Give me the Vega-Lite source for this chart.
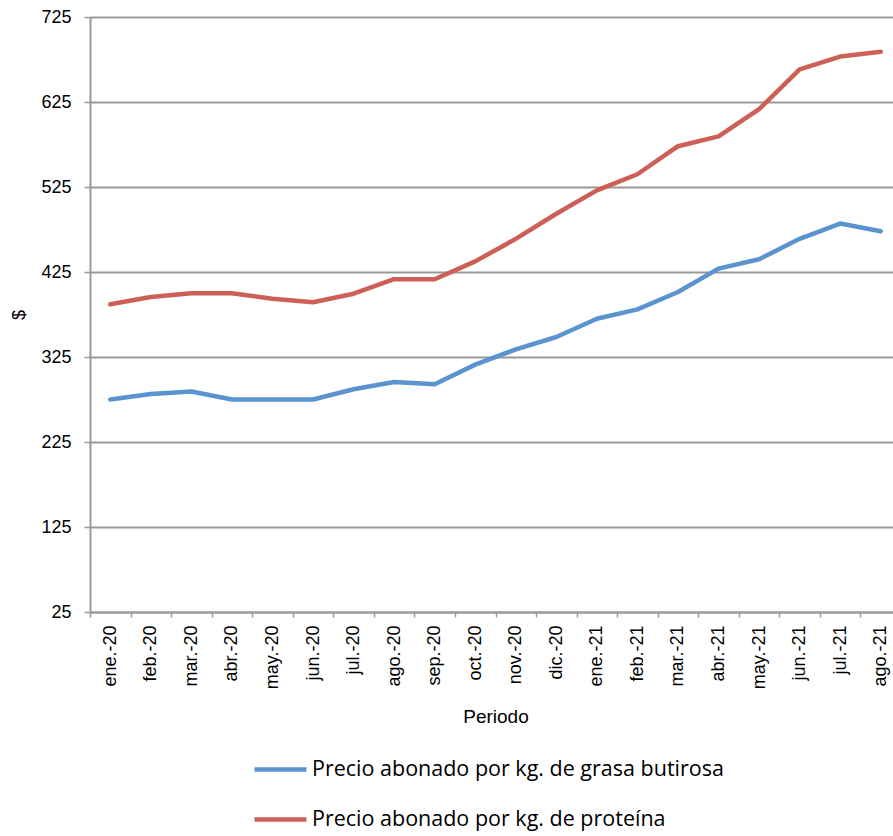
{
  "$schema": "https://vega.github.io/schema/vega-lite/v6.json",
  "width": 803,
  "height": 595,
  "autosize": {"type": "none"},
  "padding": {"left": 90, "top": 17, "right": 0, "bottom": 224},
  "background": "white",
  "config": {"view": {"stroke": null}, "font": "Liberation Sans"},
  "datasets": {
    "d": [
      {"mes": "ene.-20", "grasa": 275, "proteina": 387},
      {"mes": "feb.-20", "grasa": 281.5, "proteina": 395.5},
      {"mes": "mar.-20", "grasa": 284.5, "proteina": 400},
      {"mes": "abr.-20", "grasa": 275, "proteina": 400},
      {"mes": "may.-20", "grasa": 275, "proteina": 393.5},
      {"mes": "jun.-20", "grasa": 275, "proteina": 389.5},
      {"mes": "jul.-20", "grasa": 287, "proteina": 399.5},
      {"mes": "ago.-20", "grasa": 295.5, "proteina": 416.5},
      {"mes": "sep.-20", "grasa": 293, "proteina": 416.5},
      {"mes": "oct.-20", "grasa": 316, "proteina": 437.5},
      {"mes": "nov.-20", "grasa": 334, "proteina": 464},
      {"mes": "dic.-20", "grasa": 348.5, "proteina": 493.5},
      {"mes": "ene.-21", "grasa": 370, "proteina": 521},
      {"mes": "feb.-21", "grasa": 381, "proteina": 540},
      {"mes": "mar.-21", "grasa": 401.5, "proteina": 573},
      {"mes": "abr.-21", "grasa": 429, "proteina": 584.5},
      {"mes": "may.-21", "grasa": 440, "proteina": 616.5},
      {"mes": "jun.-21", "grasa": 464, "proteina": 663.5},
      {"mes": "jul.-21", "grasa": 482, "proteina": 678.5},
      {"mes": "ago.-21", "grasa": 473, "proteina": 684}
    ]
  },
  "data": {"name": "d"},
  "transform": [
    {"fold": ["grasa", "proteina"], "as": ["k", "valor"]},
    {"calculate": "datum.k === 'grasa' ? 'Precio abonado por kg. de grasa butirosa' : 'Precio abonado por kg. de proteína'", "as": "serie"}
  ],
  "mark": {"type": "line", "strokeWidth": 4.5, "strokeCap": "round", "strokeJoin": "round"},
  "encoding": {
    "x": {
      "field": "mes", "type": "ordinal", "sort": null,
      "scale": {"range": [0, 811], "paddingInner": 0, "paddingOuter": 0},
      "axis": {
        "title": "Periodo", "titleFont": "Liberation Sans", "titleFontSize": 19, "titleFontWeight": "normal", "titleColor": "#000", "titlePadding": 19,
        "labelAngle": -90, "labelFontSize": 18, "labelColor": "#000", "labelPadding": 8, "labelAlign": "right", "labelBaseline": "middle",
        "tickBand": "extent", "tickSize": 5, "tickColor": "#999", "tickWidth": 1.5,
        "domainColor": "#999", "domainWidth": 2, "grid": false
      }
    },
    "y": {
      "field": "valor", "type": "quantitative",
      "scale": {"domain": [25, 725], "nice": false, "zero": false},
      "axis": {
        "title": "$", "titleFontSize": 18, "titleFontWeight": "normal", "titleColor": "#000", "titlePadding": 12,
        "values": [25, 125, 225, 325, 425, 525, 625, 725],
        "labelFontSize": 18, "labelColor": "#000", "labelPadding": 13,
        "tickSize": 6, "tickColor": "#999", "tickWidth": 1.5,
        "domainColor": "#999", "domainWidth": 2,
        "grid": true, "gridColor": "#999", "gridWidth": 1.8
      }
    },
    "color": {
      "field": "serie", "type": "nominal",
      "scale": {"domain": ["Precio abonado por kg. de grasa butirosa", "Precio abonado por kg. de proteína"], "range": ["#5a93cd", "#cc5f56"]},
      "legend": {
        "title": null, "orient": "none", "legendX": 162, "legendY": 724, "direction": "vertical",
        "symbolType": "stroke", "symbolSize": 2700, "symbolStrokeWidth": 4.5,
        "labelFont": "Open Sans", "labelFontSize": 21.5, "labelColor": "#000", "labelOffset": 3,
        "rowPadding": 11, "labelLimit": 600
      }
    }
  }
}
